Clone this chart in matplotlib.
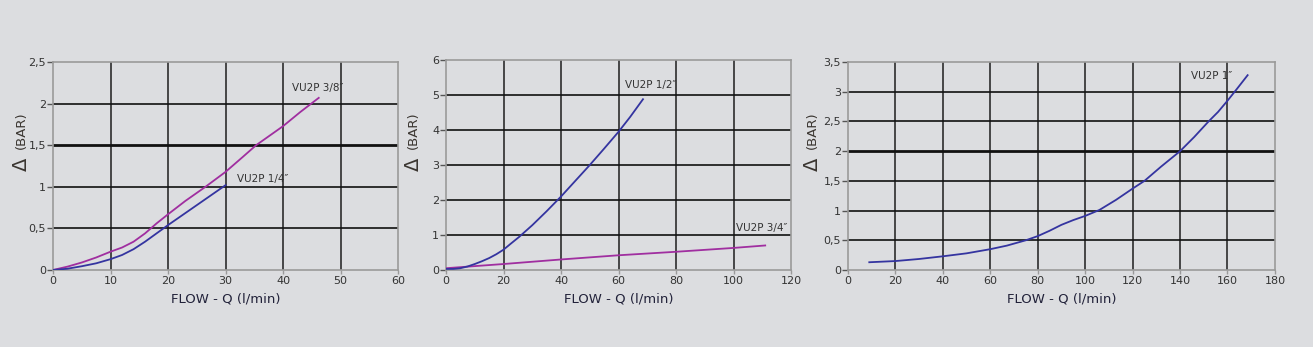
import numpy as np
import matplotlib.pyplot as plt
from matplotlib.ticker import FuncFormatter

# ---- data
q_14 = [0, 2.5, 5, 7.5, 10, 12, 14, 16, 18, 20, 22.5, 25, 27.5, 30]
dp_14 = [0, 0.015, 0.045, 0.08, 0.13, 0.18, 0.25, 0.34, 0.44, 0.54, 0.66, 0.78, 0.9, 1.02]
q_38 = [0, 2.5, 5, 7.5, 10, 12, 14, 16, 18, 20, 23, 26.5, 30, 33, 35.3, 40, 43, 46.2]
dp_38 = [0, 0.04, 0.09, 0.15, 0.22, 0.27, 0.34, 0.44, 0.56, 0.67, 0.83, 1.0, 1.18, 1.36, 1.5, 1.73, 1.9, 2.07]

q_12 = [0, 2.5, 5, 7.5, 10, 12.5, 15, 17.5, 20, 22.5, 25.5, 30, 35, 40, 45, 50, 55, 60, 64, 68.5]
dp_12 = [0.03, 0.03, 0.05, 0.1, 0.17, 0.25, 0.34, 0.45, 0.58, 0.75, 0.95, 1.28, 1.68, 2.1,
         2.55, 3.0, 3.47, 3.95, 4.37, 4.88]
q_34 = [0, 20, 40, 60, 80, 100, 111]
dp_34 = [0.05, 0.17, 0.3, 0.42, 0.52, 0.63, 0.7]

q_1 = [9, 20, 30, 40, 50, 60, 67, 75, 80, 85, 90, 95, 100, 106, 113, 120, 125, 132,
       140, 146, 152, 156, 160, 164, 168.5]
dp_1 = [0.13, 0.15, 0.185, 0.23, 0.28, 0.35, 0.41, 0.5, 0.57, 0.66, 0.76, 0.84, 0.91,
        1.01, 1.18, 1.37, 1.5, 1.74, 2.0, 2.24, 2.5, 2.66, 2.85, 3.05, 3.28]

BG = '#dcdde0'
BLUE = '#3434a0'
PURPLE = '#a02ea0'
TXT = '#333333'

fig = plt.figure(figsize=(13.13, 3.47), dpi=100, facecolor=BG)


def comma(v, pos):
    s = ('%g' % v)
    return s.replace('.', ',')


def make_axes(rect, xmax, xstep, ymax, ystep, thick=None, ylab_x=0.015):
    ax = fig.add_axes(rect, facecolor=BG)
    ax.set_xlim(0, xmax)
    ax.set_ylim(0, ymax)
    ax.set_xticks(np.arange(0, xmax + 0.01, xstep))
    ax.set_yticks(np.arange(0, ymax + 0.01, ystep))
    ax.yaxis.set_major_formatter(FuncFormatter(comma))
    for x in np.arange(xstep, xmax - 0.01, xstep):
        ax.axvline(x, color='#3a3a3a', lw=1.3, zorder=1)
    for y in np.arange(ystep, ymax - 0.01, ystep):
        lw = 2.0 if thick is not None and abs(y - thick) < 1e-6 else 1.2
        ax.axhline(y, color='#111111', lw=lw, zorder=1)
    for s in ax.spines.values():
        s.set_color('#9a9a9a')
        s.set_linewidth(1.2)
    ax.tick_params(axis='y', colors='#555555', labelcolor=TXT, labelsize=8,
                   length=4, width=1, pad=1)
    ax.tick_params(axis='x', colors='#9a9a9a', labelcolor=TXT, labelsize=8,
                   length=3, width=1, pad=1)
    ax.set_xlabel('FLOW - Q (l/min)', fontsize=9.5, color='#22223a', labelpad=5)
    # y label: big delta + (BAR)
    fig.text(ylab_x, 0.527, 'Δ', rotation=90, fontsize=14, color='#3a3530',
             ha='center', va='center')
    fig.text(ylab_x, 0.625, '(BAR)', rotation=90, fontsize=9.5, color='#3a3530',
             ha='center', va='center')
    return ax


# chart 1
ax1 = make_axes([0.0404, 0.222, 0.2628, 0.599], 60, 10, 2.5, 0.5, thick=1.5,
                ylab_x=0.016)
ax1.plot(q_38, dp_38, color=PURPLE, lw=1.3, zorder=3)
ax1.plot(q_14, dp_14, color=BLUE, lw=1.3, zorder=3)
ax1.text(41.5, 2.19, 'VU2P 3/8″', fontsize=7.5, color=TXT, va='center')
ax1.text(32, 1.09, 'VU2P 1/4″', fontsize=7.5, color=TXT, va='center')

# chart 2
ax2 = make_axes([0.3397, 0.222, 0.2628, 0.605], 120, 20, 6, 1, ylab_x=0.315)
ax2.plot(q_34, dp_34, color=PURPLE, lw=1.3, zorder=3)
ax2.plot(q_12, dp_12, color=BLUE, lw=1.3, zorder=3)
ax2.text(62.3, 5.29, 'VU2P 1/2″', fontsize=7.5, color=TXT, va='center')
ax2.text(100.9, 1.2, 'VU2P 3/4″', fontsize=7.5, color=TXT, va='center')

# chart 3
ax3 = make_axes([0.6458, 0.222, 0.3252, 0.599], 180, 20, 3.5, 0.5, thick=2.0,
                ylab_x=0.619)
ax3.plot(q_1, dp_1, color=BLUE, lw=1.3, zorder=3)
ax3.text(144.6, 3.26, 'VU2P 1″', fontsize=7.5, color=TXT, va='center')

fig.savefig('out.png', dpi=100, facecolor=BG)
